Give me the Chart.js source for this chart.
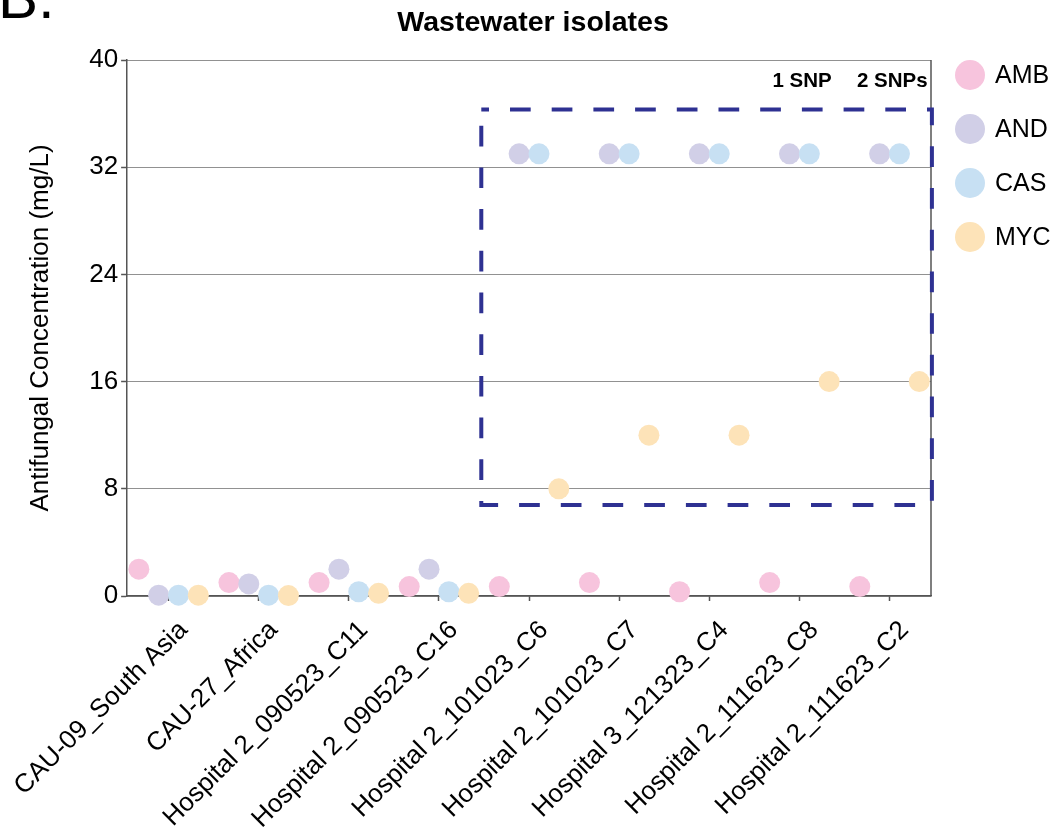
<!DOCTYPE html>
<html>
<head>
<meta charset="utf-8">
<title>Wastewater isolates</title>
<script src="https://cdn.jsdelivr.net/npm/chart.js@4.4.1/dist/chart.umd.min.js"></script>
<style>
  html, body { margin: 0; padding: 0; background: #ffffff; }
  canvas { display: block; }
</style>
</head>
<body>
<canvas id="chart" width="1056" height="836"></canvas>
<script>
// Isolates on the x axis
const categories = [
  'CAU-09_South Asia',
  'CAU-27_Africa',
  'Hospital 2_090523_C11',
  'Hospital 2_090523_C16',
  'Hospital 2_101023_C6',
  'Hospital 2_101023_C7',
  'Hospital 3_121323_C4',
  'Hospital 2_111623_C8',
  'Hospital 2_111623_C2'
];

// MIC values (mg/L) per drug
const amb = [2, 1, 1, 0.7, 0.7, 1, 0.32, 1, 0.7];
const and = [0.06, 0.9, 2, 2, 33, 33, 33, 33, 33];
const cas = [0.06, 0.06, 0.32, 0.32, 33, 33, 33, 33, 33];
const myc = [0.06, 0.03, 0.2, 0.2, 8, 12, 12, 16, 16];

const drugLabels = ['AMB', 'AND', 'CAS', 'MYC'];
const yTicks = [0, 8, 16, 24, 32, 40];

// SNP annotations above the resistant isolates
const snpLabels = ['1 SNP', '2 SNPs'];
const chartTitle = 'Wastewater isolates';

// ---- presentation ----
const FONT = '"Liberation Sans", Arial, Helvetica, sans-serif';
const colors = ['#f7c4dd', '#d1cfe7', '#c7e0f3', '#fde3b8'];
const dodge = [-0.33, -0.11, 0.11, 0.33];
const seriesValues = [amb, and, cas, myc];
const highlightBox = { x0: 3.47, x1: 8.47, y0: 6.8, y1: 36.3, color: '#2e3192' };
const snpPos = [{ x: 7.03, y: 38.4 }, { x: 8.03, y: 38.4 }];

const datasets = drugLabels.map((label, s) => ({
  label,
  data: seriesValues[s].map((v, i) => ({ x: i + dodge[s], y: v })),
  backgroundColor: colors[s],
  borderWidth: 0,
  pointRadius: 10.5,
  pointHoverRadius: 10.5,
  clip: false,
  order: drugLabels.length - 1 - s
}));

const overlayPlugin = {
  id: 'overlay',
  afterDraw(chart) {
    const { ctx, chartArea, scales } = chart;
    const xs = scales.x, ys = scales.y;
    ctx.save();

    // right frame line
    ctx.strokeStyle = '#555';
    ctx.lineWidth = 1.5;
    ctx.beginPath();
    ctx.moveTo(chartArea.right, chartArea.top);
    ctx.lineTo(chartArea.right, chartArea.bottom);
    ctx.stroke();

    // dashed box around the resistant isolates
    const bx0 = xs.getPixelForValue(highlightBox.x0);
    const bx1 = xs.getPixelForValue(highlightBox.x1);
    const by0 = ys.getPixelForValue(highlightBox.y1);
    const by1 = ys.getPixelForValue(highlightBox.y0);
    ctx.strokeStyle = highlightBox.color;
    ctx.lineWidth = 4;
    ctx.setLineDash([20.7, 21]);
    ctx.lineDashOffset = 13;
    ctx.strokeRect(bx0, by0, bx1 - bx0, by1 - by0);
    ctx.setLineDash([]);

    // chart title, centred over the plot area
    ctx.fillStyle = '#000';
    ctx.textAlign = 'center';
    ctx.textBaseline = 'middle';
    ctx.font = 'bold 28.5px ' + FONT;
    ctx.fillText(chartTitle, (chartArea.left + chartArea.right) / 2 + 4, 23);

    // SNP labels
    ctx.font = 'bold 20.5px ' + FONT;
    snpLabels.forEach((t, k) => {
      ctx.fillText(t, xs.getPixelForValue(snpPos[k].x), ys.getPixelForValue(snpPos[k].y));
    });

    // legend
    ctx.font = '25px ' + FONT;
    ctx.textAlign = 'left';
    drugLabels.forEach((label, k) => {
      const cy = 75 + k * 54;
      ctx.fillStyle = colors[k];
      ctx.beginPath();
      ctx.arc(970, cy, 15, 0, Math.PI * 2);
      ctx.fill();
      ctx.fillStyle = '#000';
      ctx.fillText(label, 995, cy + 1);
    });

    // panel letter
    ctx.font = '60px ' + FONT;
    ctx.textBaseline = 'alphabetic';
    ctx.fillText('B.', -2, 18);
    ctx.restore();
  }
};

new Chart(document.getElementById('chart'), {
  type: 'scatter',
  data: { datasets },
  plugins: [overlayPlugin],
  options: {
    responsive: false,
    animation: false,
    events: [],
    layout: { padding: { left: 5, right: 125, top: 60, bottom: 4 } },
    plugins: {
      legend: { display: false },
      tooltip: { enabled: false },
      title: { display: false }
    },
    scales: {
      x: {
        type: 'linear',
        min: -0.46,
        max: 8.46,
        afterBuildTicks(scale) {
          scale.ticks = categories.map((_, i) => ({ value: i }));
        },
        afterFit(scale) {
          scale.paddingLeft = 0;
          scale.paddingRight = 0;
          scale.height = 236;
        },
        ticks: {
          autoSkip: false,
          minRotation: 45,
          maxRotation: 45,
          padding: 14,
          labelOffset: 15,
          color: '#000',
          font: { family: FONT, size: 26 },
          callback: (v) => categories[v]
        },
        grid: {
          drawOnChartArea: false,
          drawTicks: true,
          tickLength: 5,
          tickColor: '#555',
          tickWidth: 1.5
        },
        border: { color: '#555', width: 1.5 }
      },
      y: {
        min: 0,
        max: 40,
        afterBuildTicks(scale) {
          scale.ticks = yTicks.map(v => ({ value: v }));
        },
        ticks: {
          padding: 3,
          color: '#000',
          font: { family: FONT, size: 26 }
        },
        grid: {
          color: '#222',
          lineWidth: 1,
          tickLength: 6,
          tickColor: '#555',
          tickWidth: 1.5,
          tickBorderDash: []
        },
        border: { color: '#555', width: 1.5, dash: [1, 1] },
        title: {
          display: true,
          text: 'Antifungal Concentration (mg/L)',
          color: '#000',
          font: { family: FONT, size: 26 },
          padding: { top: 20, bottom: 30 }
        }
      }
    }
  }
});
</script>
</body>
</html>
